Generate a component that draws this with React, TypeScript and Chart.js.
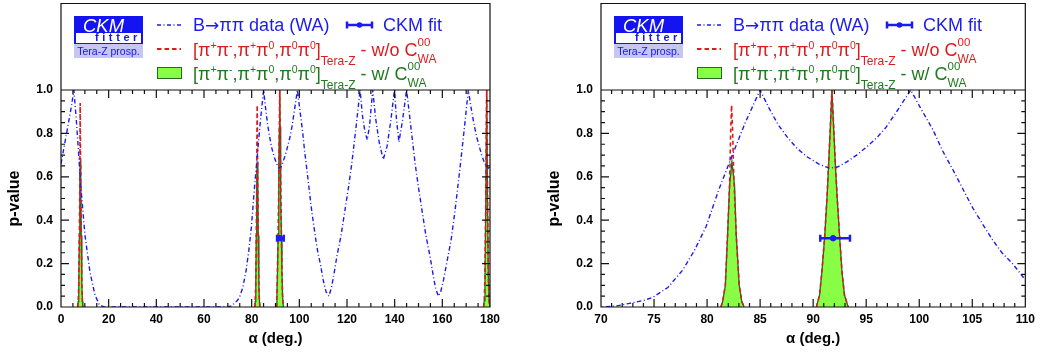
import React, { useEffect, useRef } from "react";
import { Chart, registerables } from "chart.js";

Chart.register(...registerables);

const FONT = '"Liberation Sans", Arial, Helvetica, sans-serif';
Chart.defaults.font.family = FONT;
Chart.defaults.color = "#000";

const BLUE = "#1c1cf0";
const RED = "#dc1c1c";
const DKGREEN = "#1f6a1f";
const LTGREEN = "#88ff44";
const TXTGREEN = "#1f7a1f";

// B -> pi pi data (WA): [alpha (deg), p-value]
const waCurve: [number, number][] = [
  [0, 0.66], [1.5, 0.75], [3, 0.84], [4.3, 0.92], [5.4, 1.0], [6.3, 0.88], [7.27, 0.73],
  [8.27, 0.56], [10.07, 0.33], [12.17, 0.16], [14.27, 0.055], [16.1, 0.01], [18, 0],
  [70, 0], [71.5, 0.005], [72.7, 0.017], [74, 0.03], [74.9, 0.045], [76.3, 0.09],
  [77.7, 0.17], [78.8, 0.26], [79.9, 0.37], [81.1, 0.54], [82.3, 0.69], [83.6, 0.85],
  [85.0, 1.0], [85.8, 0.92], [86.7, 0.84], [87.6, 0.78], [88.5, 0.73], [89.5, 0.69],
  [90.5, 0.66], [91.5, 0.64], [92.3, 0.645], [93.2, 0.67], [94.1, 0.7], [95.1, 0.74],
  [96.0, 0.78], [96.9, 0.83], [98.0, 0.91], [99.2, 1.0], [100.2, 0.91], [101.3, 0.816],
  [102.2, 0.72], [103.2, 0.63], [104.1, 0.545], [105.0, 0.46], [106.0, 0.38], [106.9, 0.31],
  [107.8, 0.25], [108.8, 0.2], [110, 0.125], [111.2, 0.07], [112.4, 0.05], [113.5, 0.09],
  [114.5, 0.15], [115.7, 0.23], [117.5, 0.33], [119.2, 0.45], [120.6, 0.55], [122, 0.66],
  [123.8, 0.83], [125.5, 1.0], [126.5, 0.88], [127.5, 0.81], [128.5, 0.77], [129.5, 0.84],
  [130.8, 1.0], [132, 0.87], [133.5, 0.76], [135.2, 0.68], [136.8, 0.74], [138.4, 0.86],
  [139.9, 1.0], [140.8, 0.86], [141.8, 0.76], [143.3, 0.86], [145, 1.0], [146.8, 0.83],
  [148.6, 0.66], [150, 0.55], [151.4, 0.45], [153.1, 0.33], [154.9, 0.23], [156.1, 0.15],
  [157.1, 0.09], [158.3, 0.05], [159.3, 0.07], [160.5, 0.125], [161.8, 0.2], [163.7, 0.31],
  [165.5, 0.46], [167.3, 0.63], [169.2, 0.82], [170.9, 1.0], [172.2, 0.91], [173.5, 0.83],
  [174.5, 0.78], [175.5, 0.74], [176.5, 0.7], [177.5, 0.67], [178.5, 0.645], [179.3, 0.64],
  [180, 0.645],
];

// [pi+pi-, pi+pi0, pi0pi0] Tera-Z, with C00 WA (green band)
const withC00PeakA: [number, number][] = [
  [7.0, 0], [7.2, 0.025], [7.45, 0.1], [7.7, 0.33], [7.9, 0.56], [8.1, 0.67], [8.3, 0.56],
  [8.5, 0.33], [8.75, 0.1], [9.0, 0.025], [9.2, 0],
];
const withC00PeakB: [number, number][] = [
  [81.3, 0], [81.47, 0.025], [81.72, 0.1], [81.93, 0.33], [82.12, 0.56], [82.34, 0.67],
  [82.59, 0.56], [82.75, 0.33], [83.03, 0.1], [83.27, 0.025], [83.5, 0],
];
const withC00PeakC: [number, number][] = [
  [90.3, 0], [90.6, 0.055], [90.82, 0.16], [91.08, 0.32], [91.3, 0.5], [91.45, 0.65],
  [91.62, 0.83], [91.77, 1.0], [91.93, 0.83], [92.1, 0.65], [92.27, 0.5], [92.5, 0.32],
  [92.72, 0.16], [92.95, 0.055], [93.3, 0],
];
const withC00PeakD: [number, number][] = [
  [177.3, 0], [177.6, 0.03], [177.9, 0.15], [178.2, 0.45], [178.6, 1.0], [179.0, 0.45],
  [179.3, 0.15], [179.6, 0.03], [180, 0],
];

// [pi+pi-, pi+pi0, pi0pi0] Tera-Z, without C00 WA (red dashed)
const withoutC00PeakA: [number, number][] = [
  [7.0, 0], [7.2, 0.025], [7.45, 0.1], [7.7, 0.33], [7.9, 0.56], [7.98, 0.8], [8.05, 0.94],
  [8.13, 0.8], [8.3, 0.56], [8.5, 0.33], [8.75, 0.1], [9.0, 0.025], [9.2, 0],
];
const withoutC00PeakB: [number, number][] = [
  [81.3, 0], [81.47, 0.025], [81.72, 0.1], [81.93, 0.33], [82.12, 0.56], [82.23, 0.82],
  [82.31, 0.93], [82.4, 0.82], [82.52, 0.6], [82.75, 0.33], [83.03, 0.1], [83.27, 0.025],
  [83.5, 0],
];
const withoutC00PeakC: [number, number][] = withC00PeakC;
const withoutC00PeakD: [number, number][] = withC00PeakD;

// CKM fit
const fitAlpha = 91.88;
const fitLow = 90.67;
const fitHigh = 93.47;
const fitPValue = 0.317;

const yTickCfg = { min: 0, max: 1, major: 0.2, minor: 0.05 };
const leftXCfg = { min: 0, max: 180, major: 20, minor: 5 };
const rightXCfg = { min: 70, max: 110, major: 5, minor: 1 };

function joinPeaks(peaks: [number, number][][]) {
  const out: { x: number; y: number | null }[] = [];
  peaks.forEach((pk, i) => {
    if (i > 0) {
      const prev = peaks[i - 1];
      out.push({ x: (prev[prev.length - 1][0] + pk[0][0]) / 2, y: null });
    }
    pk.forEach(([x, y]) => out.push({ x, y }));
  });
  return out;
}

const FRAME_TOP = 3;

const framePlugin = {
  id: "ckmFrame",
  afterDatasetsDraw(chart: any, _args: any, opts: any) {
    const { ctx, chartArea: ca, scales } = chart;
    const xs = scales.x;
    const ys = scales.y;
    ctx.save();
    ctx.strokeStyle = "#111";
    ctx.lineWidth = 1.2;
    ctx.beginPath();
    ctx.rect(ca.left, FRAME_TOP + 0.5, ca.right - ca.left, ca.bottom - FRAME_TOP - 0.5);
    ctx.moveTo(ca.left, ca.top);
    ctx.lineTo(ca.right, ca.top);
    const nx = Math.round((opts.xMax - opts.xMin) / opts.xMinor);
    for (let i = 0; i <= nx; i++) {
      const v = opts.xMin + i * opts.xMinor;
      const r = v / opts.xMajor;
      const len = Math.abs(r - Math.round(r)) < 1e-6 ? 8 : 4;
      const px = xs.getPixelForValue(v);
      ctx.moveTo(px, ca.bottom);
      ctx.lineTo(px, ca.bottom - len);
      ctx.moveTo(px, ca.top);
      ctx.lineTo(px, ca.top + len);
    }
    const ny = Math.round((yTickCfg.max - yTickCfg.min) / yTickCfg.minor);
    for (let i = 0; i <= ny; i++) {
      const v = yTickCfg.min + i * yTickCfg.minor;
      const r = v / yTickCfg.major;
      const len = Math.abs(r - Math.round(r)) < 1e-6 ? 8 : 4;
      const py = ys.getPixelForValue(v);
      ctx.moveTo(ca.left, py);
      ctx.lineTo(ca.left + len, py);
      ctx.moveTo(ca.right, py);
      ctx.lineTo(ca.right - len, py);
    }
    ctx.stroke();
    ctx.restore();
  },
};

const supStyle: React.CSSProperties = { position: "relative", top: -7, fontSize: 10.5 };
const subStyle: React.CSSProperties = { position: "relative", top: 9, fontSize: 12 };

function Channels() {
  return (
    <>
      [π<span style={supStyle}>+</span>π<span style={supStyle}>-</span>,π<span style={supStyle}>+</span>π
      <span style={supStyle}>0</span>,π<span style={supStyle}>0</span>π<span style={supStyle}>0</span>]
      <span style={subStyle}>Tera-Z</span>
    </>
  );
}

function C00WA() {
  return (
    <>
      C
      <span style={{ position: "relative", top: -10, fontSize: 11.5, display: "inline-block", width: 0 }}>00</span>
      <span style={{ position: "relative", top: 7, fontSize: 12 }}>WA</span>
    </>
  );
}

function Legend({ ox }: { ox: number }) {
  const rowBase: React.CSSProperties = {
    position: "absolute",
    fontSize: 18,
    lineHeight: "18px",
    whiteSpace: "nowrap",
    fontFamily: FONT,
  };
  return (
    <>
      {/* CKMfitter logo */}
      <div style={{ position: "absolute", left: ox + 13, top: 16, width: 69, fontFamily: FONT }}>
        <div
          style={{
            height: 17,
            background: "#1414f0",
            color: "#fff",
            fontStyle: "italic",
            fontSize: 18.5,
            lineHeight: "19px",
            paddingLeft: 9,
            boxSizing: "border-box",
          }}
        >
          CKM
        </div>
        <div
          style={{
            height: 10.5,
            boxSizing: "border-box",
            border: "2px solid #1414f0",
            borderTop: "0px",
            borderBottomWidth: 1.5,
            background: "#fff",
            color: "#1414f0",
            fontWeight: "bold",
            fontSize: 11,
            lineHeight: "9px",
            letterSpacing: 3.6,
            textAlign: "right",
          }}
        >
          fitter
        </div>
        <div
          style={{
            height: 14,
            background: "#c6c6f2",
            color: "#1414f0",
            fontSize: 10.5,
            lineHeight: "14px",
            textAlign: "center",
          }}
        >
          Tera-Z prosp.
        </div>
      </div>

      {/* row 1 */}
      <svg style={{ position: "absolute", left: ox + 95, top: 20 }} width={26} height={10}>
        <line x1={1} y1={5} x2={25} y2={5} stroke={BLUE} strokeWidth={1.5} strokeDasharray="4,2.5,1,2.5" />
      </svg>
      <div style={{ ...rowBase, left: ox + 132, top: 15.5, color: BLUE }}>
        B<span style={{ fontFamily: '"DejaVu Sans", sans-serif', fontSize: 17 }}>→</span>ππ data (WA)
      </div>
      <svg style={{ position: "absolute", left: ox + 284, top: 19 }} width={30} height={12}>
        <line x1={2} y1={6} x2={27} y2={6} stroke={BLUE} strokeWidth={2.5} />
        <line x1={2} y1={2.5} x2={2} y2={9.5} stroke={BLUE} strokeWidth={2.5} />
        <line x1={27} y1={2.5} x2={27} y2={9.5} stroke={BLUE} strokeWidth={2.5} />
        <circle cx={14.5} cy={6} r={2.8} fill={BLUE} />
      </svg>
      <div style={{ ...rowBase, left: ox + 322, top: 15.5, color: BLUE }}>CKM fit</div>

      {/* row 2 */}
      <svg style={{ position: "absolute", left: ox + 95, top: 44 }} width={26} height={10}>
        <line x1={1} y1={5} x2={25} y2={5} stroke={RED} strokeWidth={1.8} strokeDasharray="4.5,3" />
      </svg>
      <div style={{ ...rowBase, left: ox + 132, top: 41, color: RED }}>
        <Channels /> - w/o <C00WA />
      </div>

      {/* row 3 */}
      <div
        style={{
          position: "absolute",
          left: ox + 96,
          top: 66.5,
          width: 24.5,
          height: 12.5,
          boxSizing: "border-box",
          background: LTGREEN,
          border: `1.3px solid ${DKGREEN}`,
        }}
      />
      <div style={{ ...rowBase, left: ox + 132, top: 65, color: TXTGREEN }}>
        <Channels /> - w/ <C00WA />
      </div>
    </>
  );
}

type PanelProps = {
  left: number;
  plotLeft: number;
  padRight: number;
  yTitlePad: number;
  xCfg: { min: number; max: number; major: number; minor: number };
};

function Panel({ left, plotLeft, padRight, yTitlePad, xCfg }: PanelProps) {
  const ref = useRef<HTMLCanvasElement>(null);
  useEffect(() => {
    const chart = new Chart(ref.current as HTMLCanvasElement, {
      type: "line",
      data: {
        datasets: [
          {
            label: "CKM fit",
            data: [
              { x: fitLow, y: fitPValue },
              { x: fitAlpha, y: fitPValue },
              { x: fitHigh, y: fitPValue },
            ],
            borderColor: BLUE,
            borderWidth: 2.5,
            pointStyle: ["line", "circle", "line"] as any,
            pointRotation: [90, 0, 90] as any,
            pointRadius: [3.5, 2.8, 3.5] as any,
            pointBackgroundColor: BLUE,
            pointBorderColor: BLUE,
            pointBorderWidth: [2.5, 1, 2.5] as any,
            fill: false,
          },
          {
            label: "B→ππ data (WA)",
            data: waCurve.map(([x, y]) => ({ x, y })),
            borderColor: BLUE,
            borderWidth: 1.4,
            borderDash: [4.5, 2.5, 1, 2.5],
            pointRadius: 0,
            fill: false,
          },
          {
            label: "w/o C00",
            data: joinPeaks([withoutC00PeakA, withoutC00PeakB, withoutC00PeakC, withoutC00PeakD]),
            borderColor: RED,
            borderWidth: 1.6,
            borderDash: [4, 3],
            pointRadius: 0,
            fill: false,
            spanGaps: false,
          },
          {
            label: "w/ C00",
            data: joinPeaks([withC00PeakA, withC00PeakB, withC00PeakC, withC00PeakD]),
            borderColor: DKGREEN,
            borderWidth: 1.3,
            backgroundColor: LTGREEN,
            pointRadius: 0,
            fill: "origin",
            spanGaps: false,
          },
        ] as any,
      },
      options: {
        animation: false,
        responsive: false,
        maintainAspectRatio: false,
        devicePixelRatio: 1,
        layout: { padding: { left: 0, right: padRight, top: 90, bottom: 0 } },
        plugins: {
          legend: { display: false },
          tooltip: { enabled: false },
          ckmFrame: { xMin: xCfg.min, xMax: xCfg.max, xMajor: xCfg.major, xMinor: xCfg.minor },
        } as any,
        scales: {
          x: {
            type: "linear",
            min: xCfg.min,
            max: xCfg.max,
            grid: { display: false, drawTicks: false },
            border: { display: false },
            ticks: {
              stepSize: xCfg.major,
              autoSkip: false,
              maxRotation: 0,
              padding: 5,
              color: "#000",
              font: { size: 12, weight: "bold" },
              callback: (v: any) => String(v),
            },
            title: {
              display: true,
              text: "α (deg.)",
              color: "#000",
              font: { size: 15, weight: "bold" },
              padding: { top: 0, bottom: 6 },
            },
            afterFit: (s: any) => {
              s.height = 47;
            },
          },
          y: {
            type: "linear",
            min: yTickCfg.min,
            max: yTickCfg.max,
            grid: { display: false, drawTicks: false },
            border: { display: false },
            ticks: {
              stepSize: yTickCfg.major,
              padding: 8,
              color: "#000",
              font: { size: 12, weight: "bold" },
              callback: (v: any) => Number(v).toFixed(1),
            },
            title: {
              display: true,
              text: "p-value",
              color: "#000",
              font: { size: 16, weight: "bold" },
              padding: { top: yTitlePad, bottom: 0 },
            },
            afterFit: (s: any) => {
              s.width = plotLeft;
            },
          },
        } as any,
      },
      plugins: [framePlugin],
    } as any);
    return () => chart.destroy();
  }, []);
  return (
    <div style={{ position: "absolute", left, top: 0, width: 520, height: 354 }}>
      <canvas ref={ref} width={520} height={354} style={{ width: 520, height: 354, display: "block" }} />
      <Legend ox={plotLeft} />
    </div>
  );
}

export default function App() {
  return (
    <div
      style={{
        position: "absolute",
        left: 0,
        top: 0,
        width: 1040,
        height: 354,
        background: "#fff",
        overflow: "hidden",
      }}
    >
      <Panel left={0} plotLeft={61} padRight={30} yTitlePad={5} xCfg={leftXCfg} />
      <Panel left={520} plotLeft={81} padRight={10} yTitlePad={25} xCfg={rightXCfg} />
    </div>
  );
}
